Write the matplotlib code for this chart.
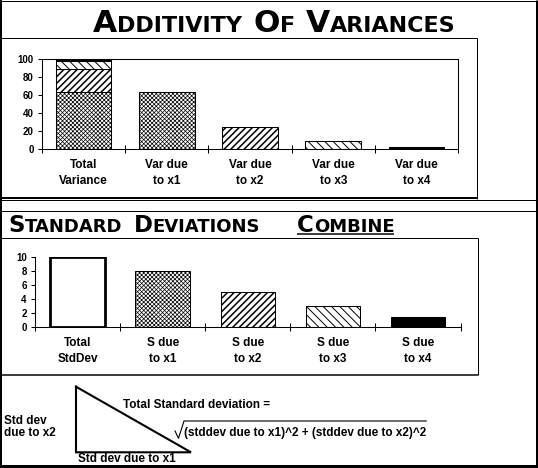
import numpy as np
import matplotlib
matplotlib.use('Agg')
import matplotlib.pyplot as plt

W, H = 538, 468

# data
var_labels = ['Total\nVariance', 'Var due\nto x1', 'Var due\nto x2', 'Var due\nto x3', 'Var due\nto x4']
var_parts = [64, 25, 9, 2]          # variance due to x1..x4 (stacked in the total bar)
var_ticks = [0, 20, 40, 60, 80, 100]
sd_labels = ['Total\nStdDev', 'S due\nto x1', 'S due\nto x2', 'S due\nto x3', 'S due\nto x4']
sd_total = 10
sd_parts = [8, 5, 3, 1.4]
sd_ticks = [0, 2, 4, 6, 8, 10]

TITLE = dict(family='DejaVu Sans', fontweight='bold', va='baseline', ha='left')
LAB = dict(family='Liberation Sans', fontweight='bold')

styles = [dict(facecolor='white', hatch='xxxxxxxx'),
          dict(facecolor='white', hatch='/////'),
          dict(facecolor='white', hatch='\\\\\\\\'),
          dict(facecolor='black')]
hatch_lw = [0.5, 1.1, 0.7, 1.0]

fig = plt.figure(figsize=(W / 100, H / 100), dpi=100)


def px(x0, y0, x1, y1):
    return [x0 / W, 1 - y1 / H, (x1 - x0) / W, (y1 - y0) / H]


# overlay in pixel coords for frames, titles and the triangle sketch
ov = fig.add_axes([0, 0, 1, 1])
ov.set_xlim(0, W)
ov.set_ylim(H, 0)
ov.set_axis_off()


def line(xs, ys, lw=1.0):
    ov.plot(xs, ys, color='black', lw=lw * 0.72, solid_capstyle='butt')


# outer frame
line([0, W], [0.5, 0.5], 1)
line([1, 1], [0, H], 2)
line([536.5, 536.5], [0, H], 3)
line([0, W], [466, 466], 3)
# top box
line([0, 476.5], [38, 38])
line([476.5, 476.5], [38, 199])
line([0, 476.5], [198, 198], 2)
line([0, W], [199.5, 199.5])
line([0, W], [211, 211])
# second box
line([0, 478], [238, 238])
line([478, 478], [238, 375])
line([0, 478], [375, 375], 1.5)

renderer = fig.canvas.get_renderer()


def small_caps(x, y, words, big, small, gap):
    for w in words:
        t = ov.text(x, y, w[0], fontsize=big, **TITLE)
        x += t.get_window_extent(renderer).width
        t = ov.text(x, y, w[1:], fontsize=small, **TITLE)
        x += t.get_window_extent(renderer).width + gap
    return x - gap


small_caps(93, 31.5, ['ADDITIVITY', 'OF', 'VARIANCES'], 22.5, 16, 11)
small_caps(8.5, 231.5, ['STANDARD', 'DEVIATIONS'], 16.5, 13, 11)
x_end = small_caps(297, 231.5, ['COMBINE'], 16.5, 13, 0)
line([297, x_end], [234, 234], 1.5)

# triangle sketch
ov.plot([76, 76, 191, 76], [386.7, 452.3, 452.3, 386.7], color='black', lw=1.5,
        solid_joinstyle='miter')
ov.text(4, 420.7, 'Std dev', fontsize=8.5, va='center', ha='left', **LAB)
ov.text(4, 433.3, 'due to x2', fontsize=8.5, va='center', ha='left', **LAB)
ov.text(78, 459.5, 'Std dev due to x1', fontsize=8.5, va='center', ha='left', **LAB)
ov.text(123, 405.5, 'Total Standard deviation =', fontsize=8.5, va='center', ha='left', **LAB)
f = ov.text(184, 432.7, '(stddev due to x1)^2 + (stddev due to x2)^2', fontsize=8.5,
            va='center', ha='left', **LAB)
f_end = 184 + f.get_window_extent(renderer).width
ov.plot([175, 178.5, 184, f_end], [431, 438.3, 421, 421], color='black', lw=0.8)


def setup(ax, ymax, ticks, labels, pad):
    ax.set_xlim(0, 5)
    ax.set_ylim(0, ymax)
    ax.set_yticks(ticks)
    ax.set_yticklabels([str(t) for t in ticks], fontsize=7, **LAB)
    ax.tick_params(axis='y', direction='out', length=3, width=0.75, pad=3)
    ax.set_xticks(range(6))
    ax.set_xticklabels([])
    ax.tick_params(axis='x', which='major', direction='inout', length=6, width=0.75)
    ax.set_xticks(np.arange(5) + 0.5, labels, minor=True, fontsize=8.5,
                  linespacing=1.45, **LAB)
    ax.tick_params(axis='x', which='minor', length=0, pad=pad)
    for s in ax.spines.values():
        s.set_linewidth(0.75)
    ax.patch.set_visible(False)


def hbar(ax, x, h, w, k, bottom=0):
    with plt.rc_context({'hatch.linewidth': hatch_lw[k]}):
        ax.bar(x, h, w, bottom=bottom, edgecolor='black', lw=0.75, **styles[k])


# variances
ax1 = fig.add_axes(px(42, 59.3, 458, 149))
setup(ax1, 100, var_ticks, var_labels, 7)
bw = 0.666
bottom = 0
for k, v in enumerate(var_parts):
    hbar(ax1, 0.5, v, bw, k, bottom)
    bottom += v
for k, v in enumerate(var_parts):
    hbar(ax1, 1.5 + k, v, bw, k)

# standard deviations
ax2 = fig.add_axes(px(35, 256.7, 460.5, 327))
setup(ax2, 10, sd_ticks, sd_labels, 7)
ax2.spines['top'].set_visible(False)
ax2.spines['right'].set_visible(False)
ax2.bar(0.5, sd_total, 0.64, facecolor='white', edgecolor='black', lw=2)
for k, v in enumerate(sd_parts):
    hbar(ax2, 1.5 + k, v, 0.64, k)

fig.savefig('out.png', dpi=100)
